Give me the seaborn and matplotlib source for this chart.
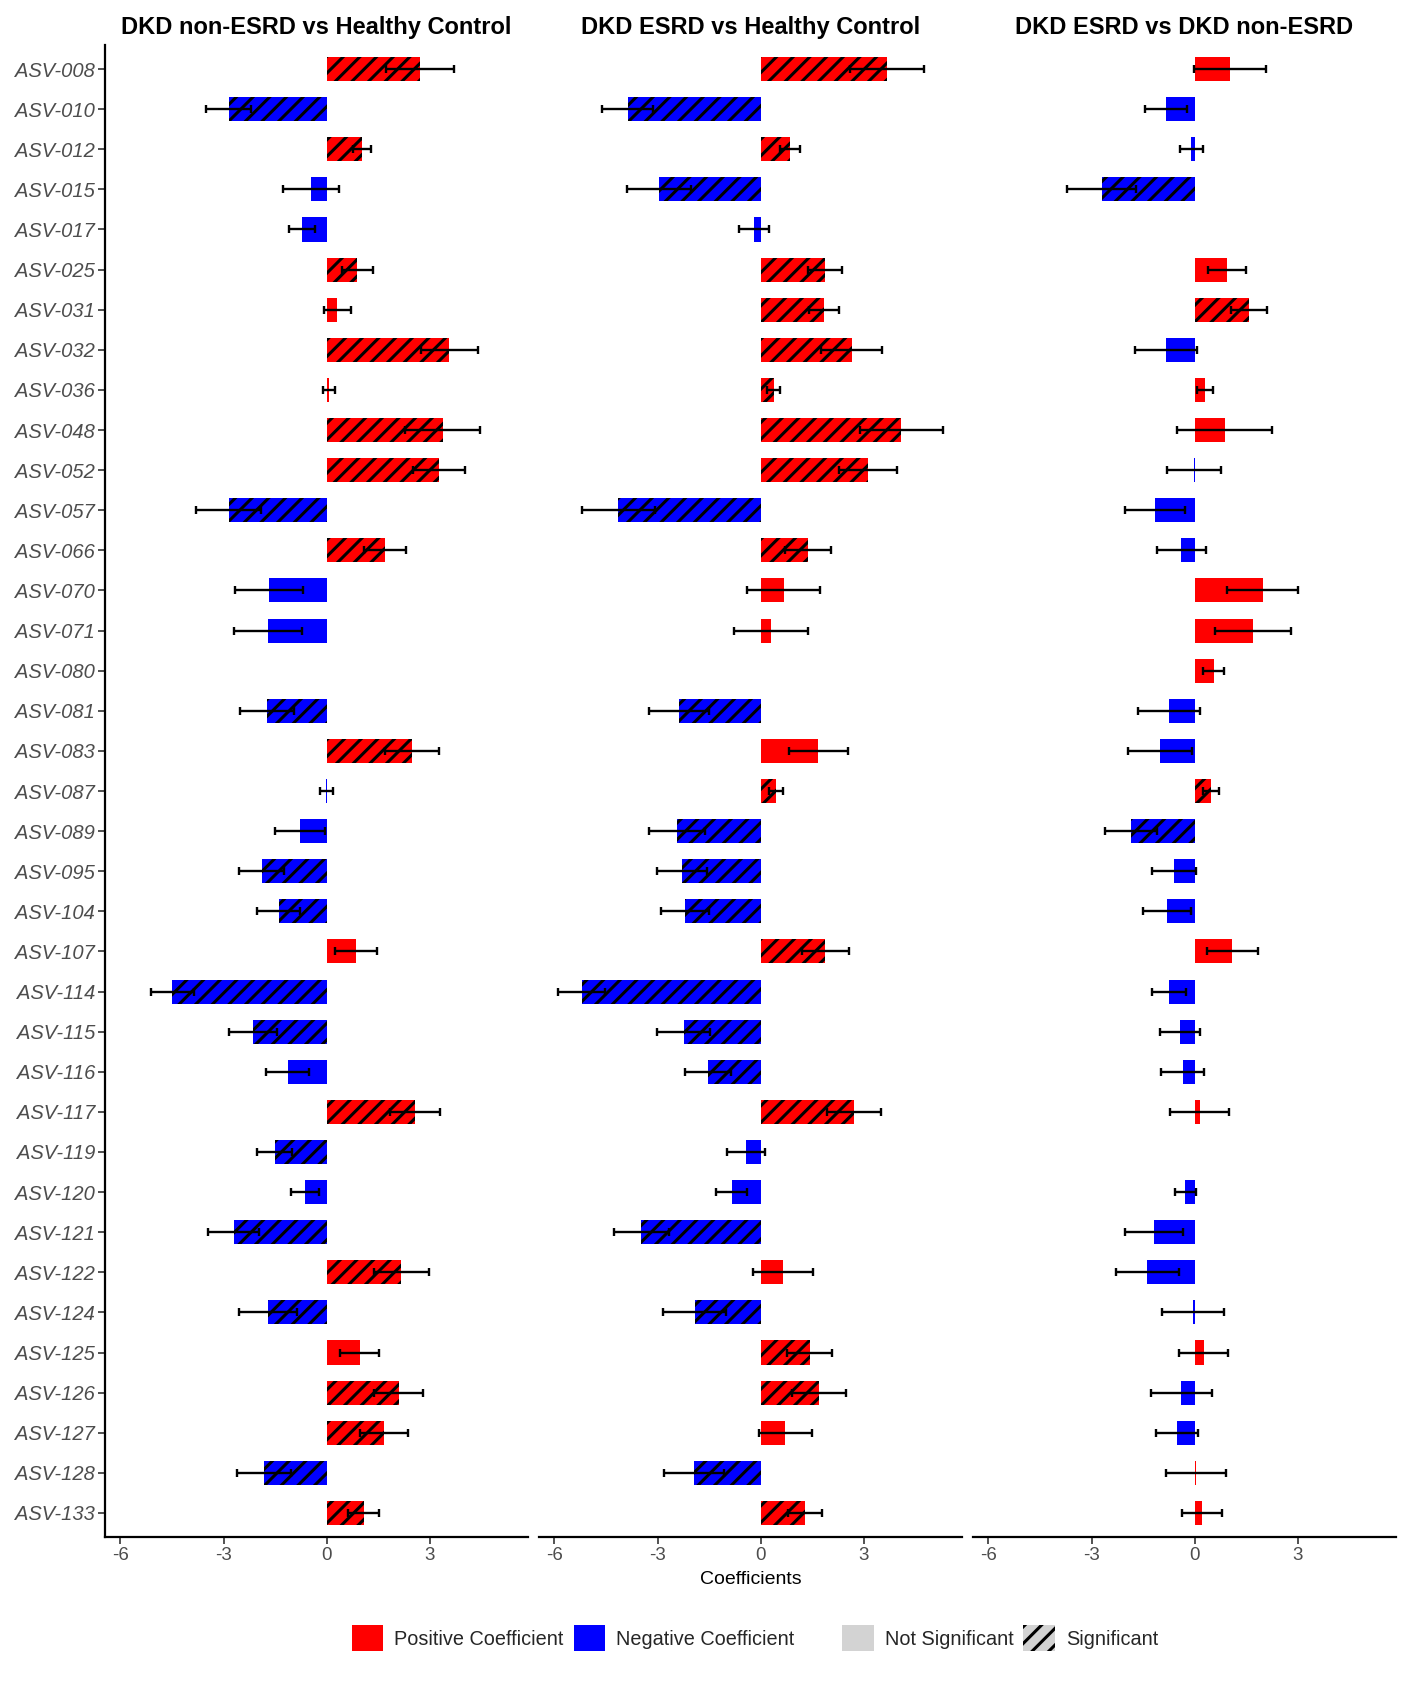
import numpy as np
import pandas as pd
import seaborn as sns
import matplotlib.pyplot as plt
import matplotlib.patches as mpatches

nan = np.nan

asv_ids = ["ASV-008", "ASV-010", "ASV-012", "ASV-015", "ASV-017", "ASV-025", "ASV-031",
           "ASV-032", "ASV-036", "ASV-048", "ASV-052", "ASV-057", "ASV-066", "ASV-070",
           "ASV-071", "ASV-080", "ASV-081", "ASV-083", "ASV-087", "ASV-089", "ASV-095",
           "ASV-104", "ASV-107", "ASV-114", "ASV-115", "ASV-116", "ASV-117", "ASV-119",
           "ASV-120", "ASV-121", "ASV-122", "ASV-124", "ASV-125", "ASV-126", "ASV-127",
           "ASV-128", "ASV-133"]

panel_titles = ["DKD non-ESRD vs Healthy Control",
                "DKD ESRD vs Healthy Control",
                "DKD ESRD vs DKD non-ESRD"]

# DKD non-ESRD vs Healthy Control
coef_p1 = [2.71, -2.85, 1.02, -0.46, -0.72, 0.89, 0.31, 3.56, 0.06, 3.37, 3.27, -2.85, 1.69,
           -1.68, -1.71, nan, -1.74, 2.48, -0.01, -0.78, -1.89, -1.40, 0.85, -4.49, -2.15,
           -1.14, 2.56, -1.51, -0.64, -2.71, 2.16, -1.70, 0.96, 2.09, 1.66, -1.82, 1.07]
err_p1 = [0.99, 0.66, 0.27, 0.82, 0.39, 0.45, 0.39, 0.83, 0.17, 1.09, 0.76, 0.95, 0.61,
          0.99, 0.98, nan, 0.78, 0.79, 0.18, 0.74, 0.65, 0.62, 0.62, 0.62, 0.70,
          0.62, 0.72, 0.51, 0.41, 0.75, 0.80, 0.84, 0.57, 0.72, 0.70, 0.78, 0.45]
sig_p1 = [1, 1, 1, 0, 0, 1, 0, 1, 0, 1, 1, 1, 1, 0, 0, 0, 1, 1, 0, 0, 1, 1, 0, 1, 1,
          0, 1, 1, 0, 1, 1, 1, 0, 1, 1, 1, 1]

# DKD ESRD vs Healthy Control
coef_p2 = [3.66, -3.87, 0.84, -2.97, -0.19, 1.87, 1.84, 2.64, 0.37, 4.08, 3.11, -4.14, 1.37,
           0.66, 0.30, nan, -2.38, 1.67, 0.45, -2.44, -2.29, -2.21, 1.88, -5.21, -2.24,
           -1.54, 2.71, -0.42, -0.85, -3.47, 0.64, -1.92, 1.42, 1.69, 0.71, -1.95, 1.29]
err_p2 = [1.07, 0.74, 0.29, 0.93, 0.43, 0.49, 0.43, 0.89, 0.20, 1.21, 0.84, 1.06, 0.67,
          1.07, 1.07, nan, 0.86, 0.86, 0.20, 0.81, 0.72, 0.69, 0.69, 0.68, 0.77,
          0.66, 0.78, 0.55, 0.46, 0.81, 0.87, 0.92, 0.65, 0.79, 0.77, 0.87, 0.50]
sig_p2 = [1, 1, 1, 1, 0, 1, 1, 1, 1, 1, 1, 1, 1, 0, 0, 0, 1, 0, 1, 1, 1, 1, 1, 1, 1,
          1, 1, 0, 0, 1, 0, 1, 1, 1, 0, 1, 1]

# DKD ESRD vs DKD non-ESRD
coef_p3 = [1.02, -0.84, -0.10, -2.71, nan, 0.94, 1.58, -0.84, 0.29, 0.87, -0.02, -1.17, -0.39,
           1.97, 1.69, 0.55, -0.76, -1.00, 0.47, -1.85, -0.61, -0.81, 1.09, -0.76, -0.42,
           -0.35, 0.14, nan, -0.28, -1.19, -1.38, -0.04, 0.26, -0.39, -0.52, 0.04, 0.21]
err_p3 = [1.04, 0.62, 0.34, 1.00, nan, 0.55, 0.52, 0.89, 0.23, 1.38, 0.78, 0.87, 0.72,
          1.04, 1.10, 0.31, 0.90, 0.93, 0.22, 0.75, 0.63, 0.71, 0.74, 0.49, 0.58,
          0.62, 0.86, nan, 0.31, 0.85, 0.92, 0.90, 0.71, 0.88, 0.60, 0.87, 0.58]
sig_p3 = [0, 0, 0, 1, 0, 0, 1, 0, 0, 0, 0, 0, 0, 0, 0, 0, 0, 0, 1, 1, 0, 0, 0, 0, 0,
          0, 0, 0, 0, 0, 0, 0, 0, 0, 0, 0, 0]

x_ticks = [-6, -3, 0, 3]

POS_COLOR = "#FF0000"
NEG_COLOR = "#0000FF"
NS_COLOR = "#D3D3D3"
TEXT_GREY = "#4D4D4D"

sns.set_theme(style="white")
plt.rcParams["font.family"] = ["Liberation Sans", "DejaVu Sans"]
plt.rcParams["axes.unicode_minus"] = False
plt.rcParams["hatch.linewidth"] = 2.2

# long table
frames = []
for title, c, e, s in zip(panel_titles,
                          [coef_p1, coef_p2, coef_p3],
                          [err_p1, err_p2, err_p3],
                          [sig_p1, sig_p2, sig_p3]):
    frames.append(pd.DataFrame({"panel": title, "asv": asv_ids, "coef": c, "err": e, "sig": s}))
df = pd.concat(frames, ignore_index=True)
df["direction"] = np.where(df["coef"] >= 0, "Positive", "Negative")

# shared x range with 5% expansion (like ggplot)
lo = (df["coef"] - df["err"]).min()
hi = (df["coef"] + df["err"]).max()
span = hi - lo
xlim = (lo - 0.05 * span, hi + 0.05 * span)

W, H = 1417, 1684
fig = plt.figure(figsize=(W / 100, H / 100), dpi=100)
lefts = [105, 539, 973]
ax_w = 423
ax_top, ax_bot = 45, 1537

axes = []
for i, title in enumerate(panel_titles):
    ax = fig.add_axes([lefts[i] / W, (H - ax_bot) / H, ax_w / W, (ax_bot - ax_top) / H])
    axes.append(ax)
    sub = df[df["panel"] == title]

    # coloured bars
    sns.barplot(data=sub, x="coef", y="asv", order=asv_ids, hue="direction",
                palette={"Positive": POS_COLOR, "Negative": NEG_COLOR},
                hue_order=["Positive", "Negative"], dodge=False, width=0.6,
                saturation=1, errorbar=None, legend=False, linewidth=0, orient="h", ax=ax)

    # hatch overlay for significant coefficients
    n0 = len(ax.patches)
    sig_sub = sub[sub["sig"] == 1]
    sns.barplot(data=sig_sub, x="coef", y="asv", order=asv_ids, color="white",
                width=0.6, errorbar=None, linewidth=0, orient="h", ax=ax)
    for p in ax.patches[n0:]:
        p.set_facecolor("none")
        p.set_edgecolor("black")
        p.set_linewidth(0)
        p.set_hatch("//")

    # error bars
    ypos = np.arange(len(asv_ids))
    ax.errorbar(sub["coef"].values, ypos, xerr=sub["err"].values, fmt="none",
                ecolor="black", elinewidth=1.7, capsize=3.2, capthick=1.7, zorder=5)

    ax.set_xlim(xlim)
    ax.set_ylim(len(asv_ids) - 0.4, -0.6)
    ax.set_xticks(x_ticks)
    ax.set_xticklabels([str(t) for t in x_ticks])
    ax.set_title(title, fontsize=17, fontweight="bold", color="black", pad=8)
    ax.set_xlabel("")
    ax.set_ylabel("")

    for side in ["top", "right"]:
        ax.spines[side].set_visible(False)
    ax.spines["bottom"].set_color("black")
    ax.spines["bottom"].set_linewidth(1.6)
    ax.tick_params(axis="x", length=5, width=1.2, color="#333333", labelsize=13.5,
                   labelcolor=TEXT_GREY, pad=2.5, bottom=True)
    if i == 0:
        ax.spines["left"].set_color("black")
        ax.spines["left"].set_linewidth(1.6)
        ax.tick_params(axis="y", length=5, width=1.2, color="#333333", labelsize=14.5,
                       labelcolor=TEXT_GREY, pad=2, left=True)
        for lbl in ax.get_yticklabels():
            lbl.set_fontstyle("italic")
    else:
        ax.spines["left"].set_visible(False)
        ax.tick_params(axis="y", left=False, labelleft=False)

axes[1].set_xlabel("Coefficients", fontsize=14, color="black", labelpad=5)

# legends
leg_kw = dict(frameon=False, fontsize=14.3, handlelength=1.6, handleheight=1.6,
              handletextpad=0.55, columnspacing=0.5, borderaxespad=0, ncol=2)
dir_handles = [mpatches.Patch(facecolor=POS_COLOR, edgecolor="none", label="Positive Coefficient"),
               mpatches.Patch(facecolor=NEG_COLOR, edgecolor="none", label="Negative Coefficient")]
sig_handles = [mpatches.Patch(facecolor=NS_COLOR, edgecolor="none", label="Not Significant"),
               mpatches.Patch(facecolor=NS_COLOR, edgecolor="black", linewidth=0, hatch="//",
                              label="Significant")]
fig.legend(handles=dir_handles, loc="center", bbox_to_anchor=(573 / W, (H - 1638) / H), **leg_kw)
fig.legend(handles=sig_handles, loc="center", bbox_to_anchor=(1000 / W, (H - 1638) / H), **leg_kw)

fig.savefig("out.png", dpi=100, facecolor="white")
